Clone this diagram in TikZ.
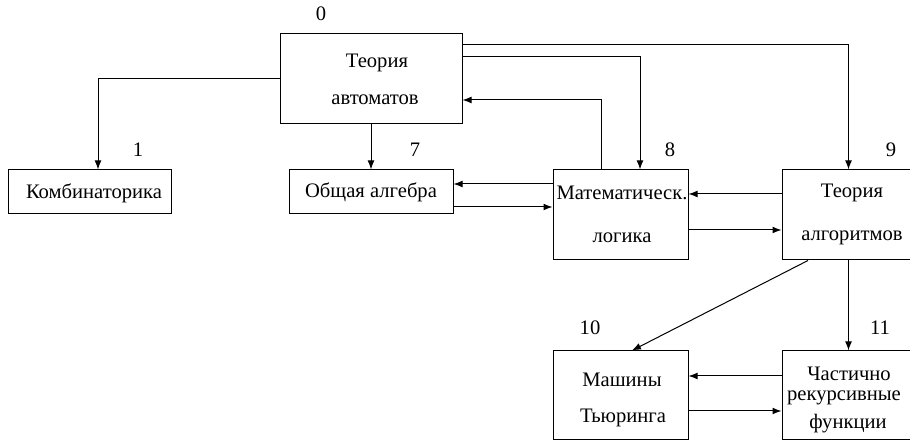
\documentclass[tikz,border=0pt]{standalone}
\usepackage{fontspec}
\setmainfont{Liberation Serif}
\usetikzlibrary{arrows.meta}
\begin{document}
\begin{tikzpicture}[x=0.5pt,y=-0.5pt,
  box/.style={draw,line width=0.5pt,inner sep=0pt,minimum width=#1},
  txt/.style={inner sep=0pt,font=\fontsize{10.3}{12}\selectfont},
  num/.style={inner sep=0pt,font=\fontsize{10.3}{12}\selectfont},
  arr/.style={line width=0.5pt,-{Latex[length=4.5pt,width=3.4pt]}},
  ln/.style={line width=0.5pt}]
\useasboundingbox (0,0) rectangle (910,442);
% boxes
\node[box=91pt,minimum height=45pt] (b0) at (371,79) {};
\node[box=81.5pt,minimum height=22pt] (b1) at (89.5,192) {};
\node[box=82pt,minimum height=22pt] (b7) at (371,192) {};
\node[box=67.5pt,minimum height=45pt] (b8) at (620.5,215) {};
\node[box=66.5pt,minimum height=45pt] (b9) at (848.5,215) {};
\node[box=67.5pt,minimum height=44.5pt] (b10) at (620.5,395.5) {};
\node[box=66.5pt,minimum height=44.5pt] (b11) at (848.5,395.5) {};
% texts
\node[txt] (t0a) at (377,63) {Теория};
\node[txt] (t0b) at (375,100) {автоматов};
\node[txt] (t1) at (94,193) {Комбинаторика};
\node[txt] (t7) at (371,192) {Общая алгебра};
\node[txt] (t8a) at (622,193) {Математическ.};
\node[txt] (t8b) at (622,238) {логика};
\node[txt] (t9a) at (852,193) {Теория};
\node[txt] (t9b) at (852,238) {алгоритмов};
\node[txt] (t10a) at (622,380) {Машины};
\node[txt] (t10b) at (623,418) {Тьюринга};
\node[txt] (t11a) at (849,374) {Частично};
\node[txt] (t11b) at (844,398) {рекурсивные};
\node[txt] (t11c) at (848,424) {функции};
% numbers
\node[num] (n0) at (321,14) {0};
\node[num] (n1) at (138,150) {1};
\node[num] (n7) at (415,150) {7};
\node[num] (n8) at (670,150) {8};
\node[num] (n9) at (891,150) {9};
\node[num] (n10) at (590,328) {10};
\node[num] (n11) at (880,328) {11};
% connectors
\draw[arr] (b0.west) -| (98,0 |- b1.north);
\draw[arr] (b0.south) -- (b7.north);
\draw[arr] (b0.east |- 0,45) -| (b9.north);
\draw[arr] (b0.east |- 0,57) -| (640,0 |- b8.north);
\draw[arr] (601,0 |- b8.north) |- (b0.east |- 0,100);
\draw[arr] (b8.west |- 0,184) -- (b7.east |- 0,184);
\draw[arr] (b7.east |- 0,207) -- (b8.west |- 0,207);
\draw[arr] (b9.west |- 0,194) -- (b8.east |- 0,194);
\draw[arr] (b8.east |- 0,230) -- (b9.west |- 0,230);
\draw[arr] (808,0 |- b9.south) -- (632,0 |- b10.north);
\draw[arr] (b9.south) -- (b11.north);
\draw[arr] (b11.west |- 0,376) -- (b10.east |- 0,376);
\draw[arr] (b10.east |- 0,411) -- (b11.west |- 0,411);
\end{tikzpicture}
\end{document}
